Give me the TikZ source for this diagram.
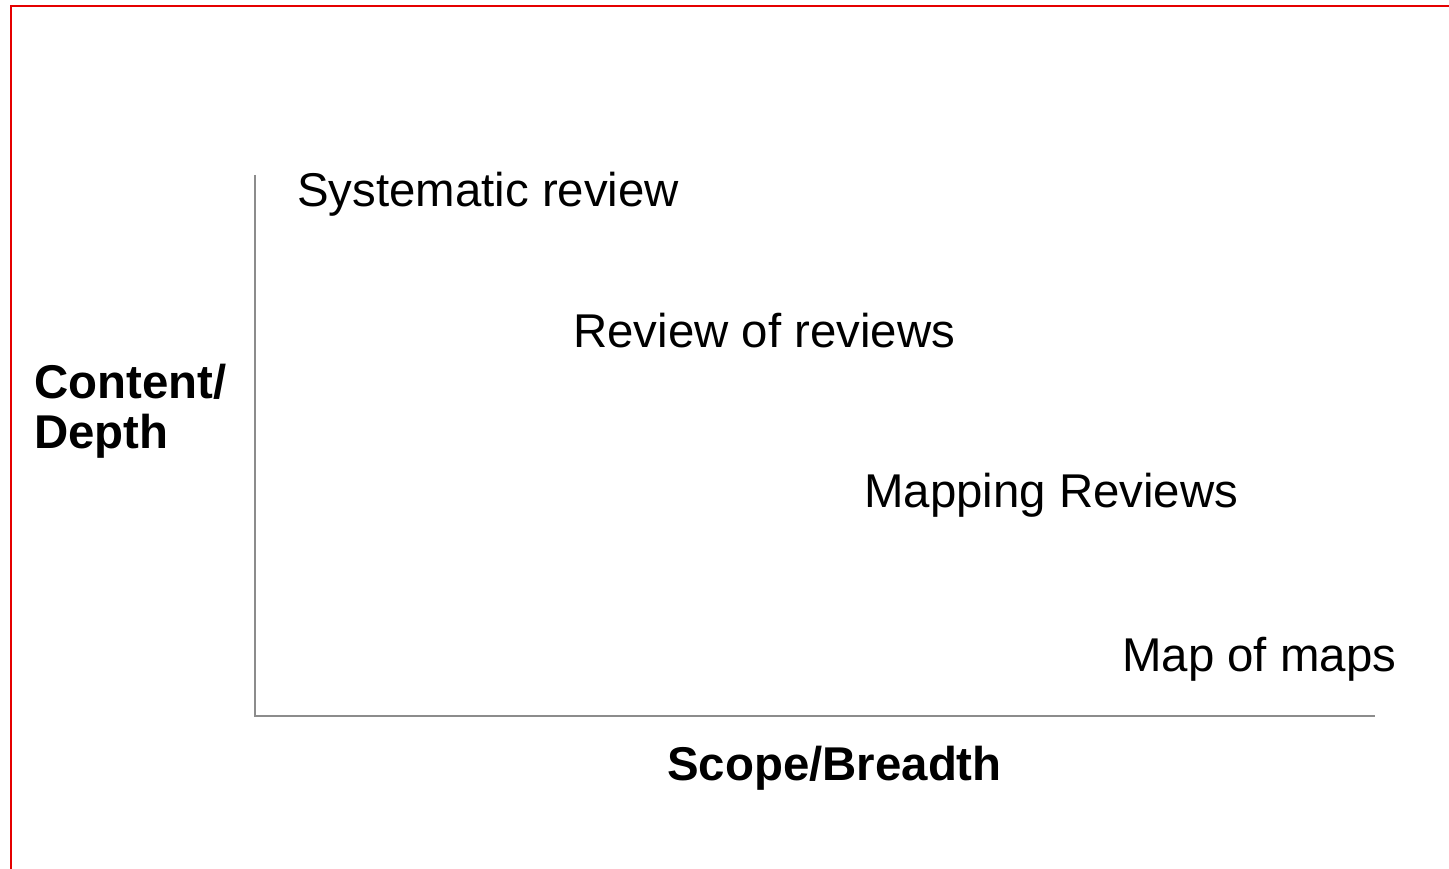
\documentclass[tikz,border=0pt]{standalone}
\usepackage{fontspec}
\setmainfont{Liberation Sans}
\begin{document}
\begin{tikzpicture}[x=1pt,y=-1pt,
  lbl/.style={anchor=base west,inner sep=0pt,font=\fontsize{47.4}{50}\selectfont},
  axislbl/.style={inner sep=0pt,font=\fontsize{47.4}{50}\selectfont\bfseries},
  axisline/.style={draw=black!45,line width=2.2pt},
  frameline/.style={draw=red!90!black,line width=2.6pt}]
\useasboundingbox (0,0) rectangle (1449,869);
\coordinate (ftl) at (11,6);
\coordinate (fr) at (1449,6);
\coordinate (fb) at (11,869);
\draw[frameline] (fb) -- (ftl) -- (fr);
\coordinate (ytop) at (255,175);
\coordinate (orig) at (255,716);
\coordinate (xend) at (1375,716);
\draw[axisline] (ytop) -- (orig) -- (xend);
\node[lbl] (sr) at (297,207) {Systematic review};
\node[lbl] (rr) at (573,347) {Review of reviews};
\node[lbl] (mr) at (864,507) {Mapping Reviews};
\node[lbl] (mm) at (1122,671) {Map of maps};
\node[axislbl,anchor=base west] (sb) at (667,780) {Scope/Breadth};
\node[axislbl,anchor=north west,align=left] (cd) at (34,364) {Content/\\Depth};
\end{tikzpicture}
\end{document}
